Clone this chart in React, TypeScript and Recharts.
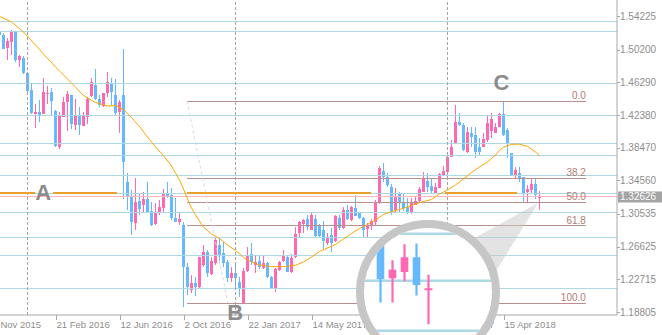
import React from 'react';
import { ComposedChart, Bar, Line, XAxis, YAxis, ReferenceLine, ReferenceDot } from 'recharts';

// ---------- data (GBP/USD weekly) ----------
const firstWeek = -1;
const opens = [
  1.5235, 1.5195, 1.5043, 1.5115, 1.5243, 1.4900, 1.4926, 1.4737, 1.4537, 1.4250,
  1.4270, 1.4250, 1.4493, 1.4510, 1.4286, 1.3859, 1.4218, 1.4388, 1.4477, 1.4118,
  1.4238, 1.4110, 1.4211, 1.4471, 1.4597, 1.4429, 1.4346, 1.4498, 1.4625, 1.4477,
  1.4270, 1.4477, 1.3440, 1.3261, 1.2949, 1.3213, 1.3161, 1.3229, 1.3093, 1.2934,
  1.3062, 1.3122, 1.3308, 1.3281, 1.3002, 1.2961, 1.2922, 1.2416, 1.2144, 1.2224,
  1.2184, 1.2443, 1.2602, 1.2336, 1.2464, 1.2683, 1.2583, 1.2483, 1.2284, 1.2344,
  1.2243, 1.1985, 1.2375, 1.2575, 1.2443, 1.2491, 1.2404, 1.2471, 1.2296, 1.2164,
  1.2383, 1.2495, 1.2543, 1.2363, 1.2535, 1.2830, 1.2934, 1.2990, 1.2862, 1.2990,
  1.2910, 1.2862, 1.2703, 1.2802, 1.2734, 1.3002, 1.2882, 1.3101, 1.2982, 1.3122,
  1.3062, 1.3002, 1.2870, 1.2910, 1.2961, 1.3181, 1.3572, 1.3493, 1.3380, 1.3101,
  1.3301, 1.3201, 1.3141, 1.3069, 1.3161, 1.3213, 1.3320, 1.3452, 1.3388, 1.3308,
  1.3368, 1.3520, 1.3560, 1.3739, 1.3899, 1.4158, 1.4118, 1.3799, 1.4019, 1.3999,
  1.3859, 1.3859, 1.3939, 1.4050, 1.4026, 1.4091, 1.4250, 1.4059, 1.3780, 1.3508,
  1.3548, 1.3493, 1.3312, 1.3341, 1.3409, 1.3260,
];
const highs = [
  1.5243, 1.5216, 1.5163, 1.5255, 1.5249, 1.4956, 1.4944, 1.4741, 1.4617, 1.4370,
  1.4418, 1.4681, 1.4585, 1.4565, 1.4292, 1.4268, 1.4459, 1.4529, 1.4483, 1.4429,
  1.4337, 1.4277, 1.4457, 1.4681, 1.4788, 1.4477, 1.4501, 1.4756, 1.4677, 1.4669,
  1.4418, 1.5028, 1.3548, 1.3341, 1.3481, 1.3308, 1.3320, 1.3440, 1.3201, 1.3181,
  1.3221, 1.3349, 1.3440, 1.3361, 1.3241, 1.3081, 1.2961, 1.2464, 1.2324, 1.2303,
  1.2543, 1.2683, 1.2623, 1.2543, 1.2763, 1.2763, 1.2722, 1.2503, 1.2423, 1.2443,
  1.2303, 1.2404, 1.2662, 1.2710, 1.2563, 1.2551, 1.2563, 1.2475, 1.2312, 1.2404,
  1.2487, 1.2623, 1.2563, 1.2575, 1.2894, 1.2973, 1.2990, 1.3042, 1.3062, 1.3042,
  1.2934, 1.2973, 1.2823, 1.2882, 1.3042, 1.3042, 1.3134, 1.3161, 1.3149, 1.3281,
  1.3081, 1.3021, 1.2942, 1.2988, 1.3221, 1.3622, 1.3667, 1.3548, 1.3412, 1.3361,
  1.3320, 1.3308, 1.3241, 1.3241, 1.3261, 1.3380, 1.3560, 1.3540, 1.3481, 1.3421,
  1.3540, 1.3628, 1.3799, 1.3939, 1.4358, 1.4258, 1.4146, 1.4091, 1.4091, 1.4091,
  1.3959, 1.4026, 1.4238, 1.4258, 1.4139, 1.4258, 1.4405, 1.4079, 1.3784, 1.3619,
  1.3612, 1.3497, 1.3395, 1.3469, 1.3472, 1.3329,
];
const lows = [
  1.5183, 1.5022, 1.4896, 1.4956, 1.4869, 1.4812, 1.4729, 1.4477, 1.4246, 1.4086,
  1.4158, 1.4246, 1.4370, 1.4238, 1.3861, 1.3831, 1.4214, 1.4050, 1.4071, 1.4059,
  1.3999, 1.4106, 1.4127, 1.4457, 1.4418, 1.4337, 1.4337, 1.4457, 1.4358, 1.4238,
  1.4019, 1.3233, 1.3101, 1.2802, 1.2862, 1.3042, 1.3062, 1.3062, 1.2910, 1.2922,
  1.3042, 1.3062, 1.3241, 1.2982, 1.2961, 1.2922, 1.1944, 1.2084, 1.2105, 1.2072,
  1.2174, 1.2423, 1.2303, 1.2324, 1.2443, 1.2464, 1.2423, 1.2243, 1.2243, 1.2184,
  1.2064, 1.1977, 1.2363, 1.2443, 1.2344, 1.2392, 1.2400, 1.2284, 1.2160, 1.2124,
  1.2375, 1.2483, 1.2359, 1.2351, 1.2531, 1.2775, 1.2823, 1.2862, 1.2858, 1.2763,
  1.2775, 1.2631, 1.2683, 1.2602, 1.2722, 1.2862, 1.2878, 1.2986, 1.2973, 1.3026,
  1.2998, 1.2775, 1.2775, 1.2862, 1.2922, 1.3177, 1.3440, 1.3380, 1.3042, 1.3081,
  1.3069, 1.3093, 1.3053, 1.3053, 1.3157, 1.3201, 1.3316, 1.3320, 1.3301, 1.3305,
  1.3365, 1.3508, 1.3469, 1.3735, 1.3891, 1.4106, 1.3811, 1.3787, 1.3859, 1.3720,
  1.3759, 1.3855, 1.3919, 1.3959, 1.4022, 1.4089, 1.3987, 1.3720, 1.3508, 1.3469,
  1.3440, 1.3201, 1.3201, 1.3299, 1.3233, 1.3101,
];
const closes = [
  1.5195, 1.5028, 1.5123, 1.5243, 1.4896, 1.4948, 1.4737, 1.4529, 1.4258, 1.4270,
  1.4238, 1.4513, 1.4503, 1.4400, 1.3871, 1.4238, 1.4390, 1.4486, 1.4130, 1.4238,
  1.4118, 1.4230, 1.4429, 1.4629, 1.4435, 1.4358, 1.4498, 1.4636, 1.4517, 1.4258,
  1.4394, 1.3670, 1.3261, 1.2961, 1.3201, 1.3110, 1.3229, 1.3069, 1.2922, 1.3081,
  1.3134, 1.3308, 1.3261, 1.3002, 1.2961, 1.2990, 1.2423, 1.2184, 1.2232, 1.2184,
  1.2535, 1.2602, 1.2344, 1.2495, 1.2742, 1.2551, 1.2471, 1.2284, 1.2344, 1.2284,
  1.2164, 1.2375, 1.2551, 1.2483, 1.2483, 1.2416, 1.2464, 1.2296, 1.2164, 1.2392,
  1.2483, 1.2551, 1.2363, 1.2523, 1.2814, 1.2961, 1.2982, 1.2894, 1.3042, 1.2790,
  1.2790, 1.2734, 1.2775, 1.2710, 1.3030, 1.2882, 1.3101, 1.2990, 1.3141, 1.3030,
  1.3002, 1.2862, 1.2910, 1.2964, 1.3201, 1.3600, 1.3493, 1.3401, 1.3062, 1.3269,
  1.3181, 1.3122, 1.3081, 1.3201, 1.3209, 1.3349, 1.3481, 1.3380, 1.3332, 1.3380,
  1.3532, 1.3572, 1.3739, 1.3859, 1.4158, 1.4118, 1.3819, 1.4038, 1.3971, 1.3799,
  1.3799, 1.3947, 1.4139, 1.4187, 1.4098, 1.4250, 1.3999, 1.3899, 1.3520, 1.3580,
  1.3469, 1.3308, 1.3352, 1.3409, 1.3281, 1.32626,
];

// moving average (orange), sampled along the curve
const maWeeks = [
  -1, 2, 5, 8, 11, 14, 17, 20, 23, 26, 28, 30, 32, 34, 36, 38, 40, 42, 44, 45,
  46, 47, 48, 50, 52, 54, 56, 58, 60, 62, 64, 67, 70, 73, 75, 77, 79, 81, 83, 85,
  87, 89, 91, 93, 95, 97, 99, 101, 103, 105, 107, 109, 111, 113, 115, 117, 119, 121, 123, 124,
  125, 127, 129, 131, 133, 134,
];
const maValues = [
  1.5417, 1.5351, 1.5231, 1.5076, 1.4914, 1.4764, 1.4621, 1.4471, 1.4388, 1.4346,
  1.4352, 1.4304, 1.4208, 1.4100, 1.3975, 1.3855, 1.3753, 1.3628, 1.3460, 1.3353,
  1.3233, 1.3125, 1.3042, 1.2898, 1.2814, 1.2760, 1.2683, 1.2617, 1.2533, 1.2479,
  1.2443, 1.2423, 1.2423, 1.2440, 1.2479, 1.2539, 1.2605, 1.2647, 1.2689, 1.2754,
  1.2820, 1.2880, 1.2928, 1.2982, 1.3048, 1.3083, 1.3107, 1.3137, 1.3173, 1.3203,
  1.3227, 1.3293, 1.3341, 1.3401, 1.3472, 1.3550, 1.3616, 1.3676, 1.3759, 1.3813,
  1.3855, 1.3887, 1.3889, 1.3861, 1.3795, 1.3753,
];

// axes
const xTickWeeks = [-3, 13, 29, 45, 61, 77, 93, 109, 125];
const xTickLabels = ['1 Nov 2015', '21 Feb 2016', '12 Jun 2016', '2 Oct 2016', '22 Jan 2017', '14 May 2017', '3 Sep 2017', '24 Dec 2017', '15 Apr 2018'];
const yTicks = [1.18805, 1.22715, 1.26625, 1.30535, 1.3456, 1.3847, 1.4238, 1.4629, 1.502, 1.54225];

// drawn objects
const levelLines = [1.5361, 1.5241, 1.4619, 1.4238, 1.3901, 1.3759, 1.3517, 1.3301, 1.3071, 1.2775, 1.2559, 1.2165];
const yearSeparators = [6, 58, 111];
const currentPrice = 1.32626;
const lineA = 1.3304;
const lineASegments = [[-0.875, 7.9], [12.4, 28.4], [45.9, 91.9], [110.4, 128.4]];
const fibHigh = 1.4405;
const fibLow = 1.1988;
const fibRatios = [0, 38.2, 50, 61.8, 100];
const fibLabels = ['0.0', '38.2', '50.0', '61.8', '100.0'];
const fibStart = 45.9;
const fibEnd = 145.6;
const fibTrend = [[45.9, 1.4405], [56.1, 1.1988]];
const pointLabels = [
  { t: 'A', w: 9.9, p: 1.3311 },
  { t: 'B', w: 57.9, p: 1.1878 },
  { t: 'C', w: 124.5, p: 1.4621 },
];

// ---------- layout / style ----------
const W = 662, H = 335;
const PLOT_W = 617, PLOT_H = 315;
const X_MIN = -0.875, X_MAX = 153.375;
const Y_MIN = 1.1845, Y_MAX = 1.5614;
const PINK = '#ff69b4';
const BLUE = '#66b8ff';
const LBLUE = '#add8e6';
const FIB = '#bc8f8f';
const AXIS = '#a8a8a8';
const TXT = '#8e8e8e';
const FONT = '"Liberation Sans", Arial, sans-serif';

const data = opens.map((o, k) => {
  const w = firstWeek + k;
  const mi = maWeeks.indexOf(w);
  return { w, o, h: highs[k], l: lows[k], c: closes[k], range: [lows[k], highs[k]], ma: mi >= 0 ? maValues[mi] : null };
});

const Candle = (props: any) => {
  const { x, y, width, height, payload } = props;
  if (x == null || !payload) return null;
  const cx = x + width / 2;
  const top = Math.min(y, y + height);
  const bot = Math.max(y, y + height);
  const { o, h, l, c } = payload;
  const span = h - l || 1e-9;
  const py = (p: number) => top + ((h - p) / span) * (bot - top);
  const up = c >= o;
  const color = up ? PINK : BLUE;
  const bt = Math.round(py(Math.max(o, c)));
  const bb = Math.round(py(Math.min(o, c)));
  const wx = Math.floor(cx) + 0.5;
  return (
    <g>
      <line x1={wx} x2={wx} y1={Math.round(top)} y2={Math.round(bot)} stroke={color} strokeWidth={1} />
      {bb - bt < 1 ? (
        <line x1={wx - 1.5} x2={wx + 1.5} y1={bt + 0.5} y2={bt + 0.5} stroke={color} strokeWidth={1} />
      ) : (
        <rect x={wx - 1.5} y={bt} width={3} height={bb - bt} fill={color} />
      )}
    </g>
  );
};

const XTick = (props: any) => {
  const { x, payload } = props;
  const idx = xTickWeeks.indexOf(payload.value);
  const tx = Math.round(x) + 0.5;
  return (
    <g>
      <line x1={tx} x2={tx} y1={PLOT_H} y2={PLOT_H + 5} stroke={AXIS} />
      <text x={x + 1} y={PLOT_H + 13} fontSize={9.5} fill={TXT} fontFamily={FONT} textAnchor="start">
        {xTickLabels[idx]}
      </text>
    </g>
  );
};

const YTick = (props: any) => {
  const { y, payload } = props;
  const ty = Math.round(y) + 0.5;
  return (
    <g>
      <line x1={PLOT_W} x2={PLOT_W + 3} y1={ty} y2={ty} stroke={AXIS} />
      <text x={PLOT_W + 3} y={y + 3.5} fontSize={10} fill={TXT} fontFamily={FONT} textAnchor="start">
        {Number(payload.value).toFixed(5)}
      </text>
    </g>
  );
};

// ---------- magnifier overlay ----------
const xPx = (w: number) => ((w - X_MIN) / (X_MAX - X_MIN)) * PLOT_W;
const yPx = (p: number) => ((Y_MAX - p) / (Y_MAX - Y_MIN)) * PLOT_H;
const LENS = { cx: 428, cy: 292, r: 64, ring: 8, fx: 539.5, fy: 196.5, lx: 428.5, ly: 289, kx: 3, ky: 2.6 };

const Lens = () => {
  const toLX = (px: number) => LENS.lx + (px - LENS.fx) * LENS.kx;
  const toLY = (py: number) => LENS.ly + (py - LENS.fy) * LENS.ky;
  const last = data.slice(-8);
  return (
    <svg width={W} height={H} style={{ position: 'absolute', left: 0, top: 0, pointerEvents: 'none' }}>
      <defs>
        <clipPath id="lensClip">
          <circle cx={LENS.cx} cy={LENS.cy} r={LENS.r} />
        </clipPath>
      </defs>
      <polygon points="538,203 462,245 490,281" fill="#c8c8c8" fillOpacity={0.5} />
      <circle cx={LENS.cx} cy={LENS.cy} r={LENS.r} fill="#ffffff" />
      <g clipPath="url(#lensClip)">
        {levelLines.map((p, k) => (
          <line key={k} x1={LENS.cx - 80} x2={LENS.cx + 80} y1={toLY(yPx(p))} y2={toLY(yPx(p))} stroke={LBLUE} strokeWidth={2.5} />
        ))}
        {last.map((d, k) => {
          const cx = toLX(xPx(d.w));
          const color = d.c >= d.o ? PINK : BLUE;
          const bt = toLY(yPx(Math.max(d.o, d.c)));
          const bb = toLY(yPx(Math.min(d.o, d.c)));
          return (
            <g key={k}>
              <line x1={cx} x2={cx} y1={toLY(yPx(d.h))} y2={toLY(yPx(d.l))} stroke={color} strokeWidth={2.2} />
              {bb - bt < 2 ? (
                <line x1={cx - 4} x2={cx + 4} y1={(bt + bb) / 2} y2={(bt + bb) / 2} stroke={color} strokeWidth={2} />
              ) : (
                <rect x={cx - 3.8} y={bt} width={7.6} height={bb - bt} fill={color} />
              )}
            </g>
          );
        })}
      </g>
      <circle cx={LENS.cx} cy={LENS.cy} r={LENS.r + LENS.ring / 2} fill="none" stroke="#c6c6c6" strokeWidth={LENS.ring} />
    </svg>
  );
};

export default function App() {
  return (
    <div style={{ position: 'absolute', left: 0, top: 0, width: W, height: H, background: '#fff', fontFamily: FONT }}>
      <ComposedChart width={W} height={H} data={data} margin={{ top: 0, right: 0, bottom: 0, left: 0 }}>
        <XAxis
          dataKey="w"
          type="number"
          domain={[X_MIN, X_MAX]}
          allowDataOverflow
          ticks={xTickWeeks}
          interval={0}
          height={H - PLOT_H}
          tickSize={0}
          tickMargin={0}
          tickLine={false}
          axisLine={{ stroke: AXIS }}
          tick={<XTick />}
        />
        <YAxis
          orientation="right"
          type="number"
          domain={[Y_MIN, Y_MAX]}
          allowDataOverflow
          ticks={yTicks}
          interval={0}
          width={W - PLOT_W}
          tickSize={0}
          tickMargin={0}
          tickLine={false}
          axisLine={{ stroke: AXIS }}
          tick={<YTick />}
        />
        {levelLines.map((p, k) => (
          <ReferenceLine key={'lv' + k} y={p} stroke={LBLUE} strokeWidth={1} shapeRendering="crispEdges" />
        ))}
        {yearSeparators.map((w, k) => (
          <ReferenceLine key={'ys' + k} x={w} stroke="#a3a3a3" strokeDasharray="3 2" strokeWidth={1} />
        ))}
        <ReferenceLine y={currentPrice} stroke="#ffb6c1" strokeWidth={1} shapeRendering="crispEdges" />
        {fibRatios.map((r, k) => {
          const p = fibHigh - (r / 100) * (fibHigh - fibLow);
          return (
            <ReferenceLine
              key={'fb' + k}
              segment={[{ x: fibStart, y: p }, { x: fibEnd, y: p }]}
              stroke={FIB}
              strokeWidth={1}
              shapeRendering="crispEdges"
            />
          );
        })}
        <ReferenceLine
          segment={[{ x: fibTrend[0][0], y: fibTrend[0][1] }, { x: fibTrend[1][0], y: fibTrend[1][1] }]}
          stroke="#d6d6f0"
          strokeDasharray="3 3"
          strokeWidth={1}
        />
        {lineASegments.map((s, k) => (
          <ReferenceLine key={'la' + k} segment={[{ x: s[0], y: lineA }, { x: s[1], y: lineA }]} stroke="#e8a22c" strokeWidth={2} />
        ))}
        <Line dataKey="ma" type="linear" stroke="#ffa500" strokeWidth={1} dot={false} connectNulls isAnimationActive={false} />
        <Bar dataKey="range" barSize={3} isAnimationActive={false} shape={(p: any) => <Candle {...p} />} />
        {fibRatios.map((r, k) => {
          const p = fibHigh - (r / 100) * (fibHigh - fibLow);
          return (
            <ReferenceDot
              key={'fl' + k}
              x={fibEnd}
              y={p}
              r={0}
              shape={(sp: any) => (
                <text x={sp.cx} y={sp.cy - 2} fontSize={10} fill="#b47c76" textAnchor="end" fontFamily={FONT}>
                  {fibLabels[k]}
                </text>
              )}
            />
          );
        })}
        {pointLabels.map((lb, k) => (
          <ReferenceDot
            key={'pl' + k}
            x={lb.w}
            y={lb.p}
            r={0}
            shape={(sp: any) => (
              <text x={sp.cx} y={sp.cy} fontSize={22} fontWeight="bold" fill="#8c8c8c" textAnchor="middle" dominantBaseline="central" fontFamily={FONT}>
                {lb.t}
              </text>
            )}
          />
        ))}
        <ReferenceDot
          x={X_MAX}
          y={currentPrice}
          r={0}
          shape={(sp: any) => (
            <g>
              <rect x={sp.cx + 1} y={Math.round(sp.cy) - 5.5} width={45} height={11} fill="#a4a4a4" />
              <text x={sp.cx + 3} y={sp.cy + 3.5} fontSize={10} fill="#ffffff" fontFamily={FONT}>
                {currentPrice.toFixed(5)}
              </text>
            </g>
          )}
        />
      </ComposedChart>
      <Lens />
    </div>
  );
}
